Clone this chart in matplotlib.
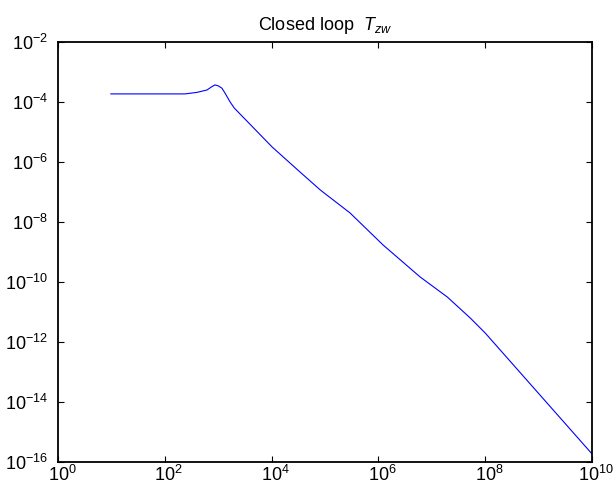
import numpy as np
import matplotlib
matplotlib.use("Agg")
import matplotlib.pyplot as plt
from matplotlib.ticker import LogLocator, NullLocator
from matplotlib.transforms import ScaledTranslation

plt.rcParams['font.family'] = ['Liberation Sans', 'DejaVu Sans']
plt.rcParams['mathtext.fontset'] = 'custom'
plt.rcParams['mathtext.rm'] = 'Liberation Sans'
plt.rcParams['mathtext.it'] = 'Liberation Sans:italic'

# closed-loop magnitude, log10 of frequency and of |T_zw|
log_freq = [0.99, 2.38, 2.60, 2.79, 2.88, 2.94, 3.00, 3.07, 3.13, 3.22,
            3.30, 4.01, 4.53, 4.91, 5.47, 6.09, 6.78, 7.29, 7.72, 8.00,
            10.0]
log_mag = [-3.73, -3.73, -3.68, -3.60, -3.49, -3.43, -3.46, -3.54, -3.71, -3.99,
           -4.20, -5.50, -6.33, -6.93, -7.70, -8.77, -9.83, -10.50, -11.20, -11.70,
           -15.73]

freq = 10.0 ** np.array(log_freq)
mag = 10.0 ** np.array(log_mag)

fig = plt.figure(figsize=(6.16, 4.90), dpi=100)
ax = fig.add_axes([58 / 616, 1 - 462 / 490, 534 / 616, 420 / 490])

ax.loglog(freq, mag, color='#0000ff', linewidth=0.8)

ax.set_xlim(1e0, 1e10)
ax.set_ylim(1e-16, 1e-2)
ax.xaxis.set_major_locator(LogLocator(base=100.0, numticks=20))
ax.yaxis.set_major_locator(LogLocator(base=100.0, numticks=20))
ax.xaxis.set_minor_locator(NullLocator())
ax.yaxis.set_minor_locator(NullLocator())

ax.tick_params(direction='in', length=4, width=0.8, top=True, right=True,
               labelsize=13, colors='black')
ax.tick_params(axis='x', pad=2)
ax.tick_params(axis='y', pad=7)
for sp in ax.spines.values():
    sp.set_linewidth(1.3)

# base "10" sits under the tick, exponent hangs to the right
shift = ScaledTranslation(4 / 100, 0, fig.dpi_scale_trans)
for lbl in ax.get_xticklabels():
    lbl.set_transform(lbl.get_transform() + shift)

ax.set_title(r'Closed loop  $T_{zw}$', fontsize=13, pad=9)

fig.savefig('out.png', dpi=100, facecolor='white')
